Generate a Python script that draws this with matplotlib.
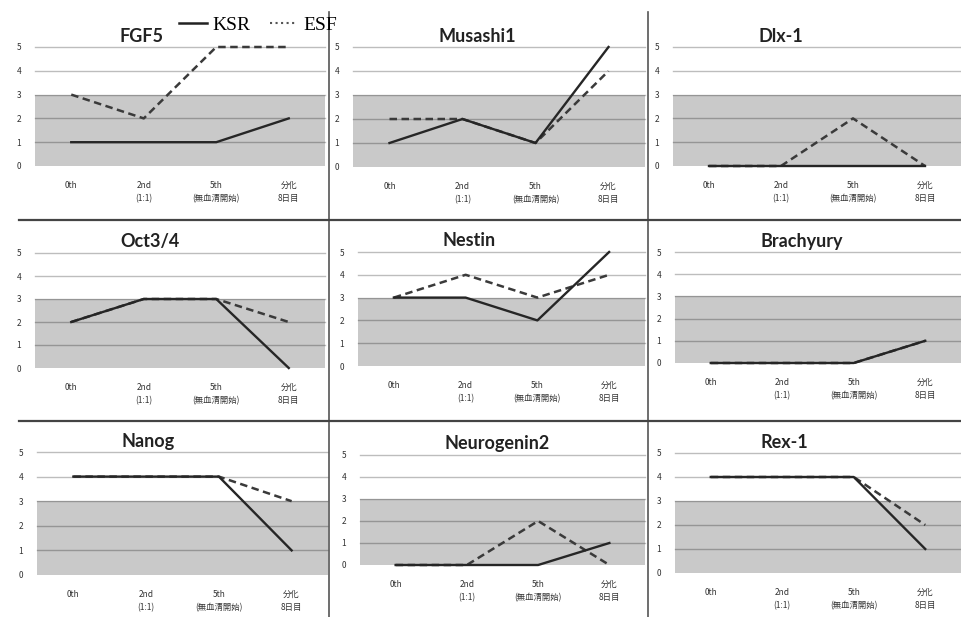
import matplotlib.pyplot as plt
from matplotlib.lines import Line2D

plt.rcParams['font.family'] = ['Noto Sans CJK JP', 'DejaVu Sans']

# datos
stages = ['0th', '2nd\n(1:1)', '5th\n(無血清開始)', '分化\n8日目']
genes = ['FGF5', 'Musashi1', 'Dlx-1',
         'Oct3/4', 'Nestin', 'Brachyury',
         'Nanog', 'Neurogenin2', 'Rex-1']
ksr = [[1, 1, 1, 2], [1, 2, 1, 5], [0, 0, 0, 0],
       [2, 3, 3, 0], [3, 3, 2, 5], [0, 0, 0, 1],
       [4, 4, 4, 1], [0, 0, 0, 1], [4, 4, 4, 1]]
esf = [[3, 2, 5, 5], [2, 2, 1, 4], [0, 0, 2, 0],
       [2, 3, 3, 2], [3, 4, 3, 4], [0, 0, 0, 1],
       [4, 4, 4, 3], [0, 0, 2, 0], [4, 4, 4, 2]]
yticks = [0, 1, 2, 3, 4, 5]
band_top = 3

# posicion de cada panel en pixeles: izquierda, derecha, y=5, y=0
W, H = 961, 617
rects = [(35, 325, 47, 166), (353, 645, 47, 167), (673, 961, 47, 166),
         (35, 325, 253, 368), (358, 645, 252, 366), (675, 961, 252, 363),
         (37, 328, 452, 575), (360, 645, 455, 565), (675, 961, 453, 573)]

fig = plt.figure(figsize=(W / 100, H / 100), dpi=100)

for i, gene in enumerate(genes):
    l, r, t, b = rects[i]
    ax = fig.add_axes([l / W, 1 - b / H, (r - l) / W, (b - t) / H])
    x = range(len(stages))
    ax.axhspan(-0.04, band_top, color='#c9c9c9', zorder=0, lw=0)
    for y in yticks[1:]:
        ax.axhline(y, color='black', alpha=0.26, lw=1, zorder=1, clip_on=False)
    ax.plot(x, esf[i], color='#3a3a3a', lw=1.8, dashes=(3, 1.8), zorder=3, clip_on=False)
    ax.plot(x, ksr[i], color='#262626', lw=1.7, zorder=4, clip_on=False)
    ax.set_xlim(-0.5, 3.5)
    ax.set_ylim(0, 5)
    ax.set_yticks(yticks)
    ax.set_xticks(list(x))
    ax.set_xticklabels(stages, fontsize=6, color='#333333', linespacing=1.5)
    ax.tick_params(axis='y', labelsize=6, labelcolor='#333333', length=0, pad=10)
    ax.tick_params(axis='x', length=0, pad=11)
    for s in ax.spines.values():
        s.set_visible(False)
    ax.annotate(gene, xy=(0, 1), xycoords='axes fraction', xytext=(85 * 0.72, 11 * 0.72),
                textcoords='offset points', ha='left', va='center',
                fontsize=13, fontweight='bold', family='Lato', color='#222222')

# lineas separadoras
for xs in [329, 648]:
    fig.add_artist(Line2D([xs / W, xs / W], [0, 1 - 12 / H], color='#555555', lw=1.2))
for ys in [220, 421]:
    fig.add_artist(Line2D([0.02, 1], [1 - ys / H, 1 - ys / H], color='#444444', lw=1.6))

handles = [Line2D([], [], color='#222222', lw=1.8),
           Line2D([], [], color='#555555', lw=1.5, ls=':')]
fig.legend(handles, ['KSR', 'ESF'], ncol=2, frameon=False, loc='center',
           bbox_to_anchor=(258 / W, 1 - 25 / H), handlelength=1.4, handletextpad=0.3,
           columnspacing=1.0, prop={'family': 'Liberation Serif', 'size': 14})

fig.savefig('out.png', dpi=100)
